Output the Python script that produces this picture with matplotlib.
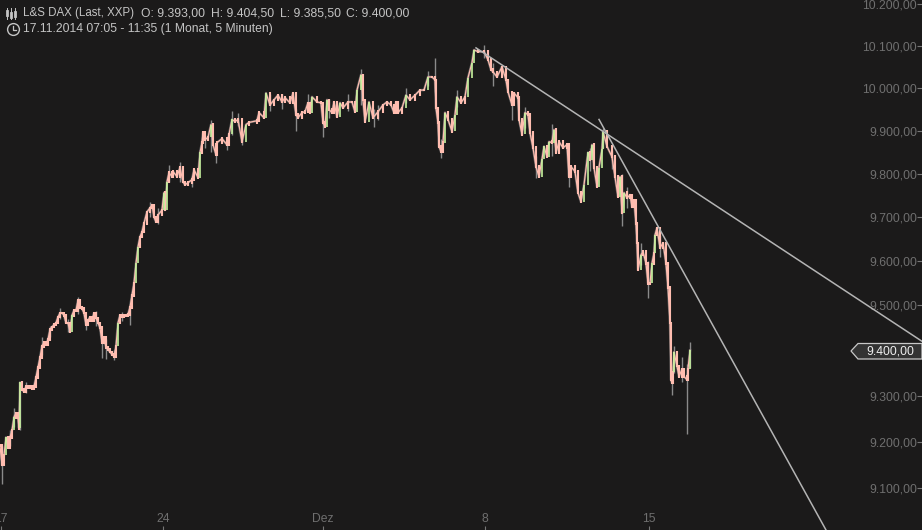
import matplotlib
matplotlib.use("Agg")
import matplotlib.pyplot as plt
from matplotlib.patches import Polygon
from matplotlib.lines import Line2D
import numpy as np

plt.rcParams['font.family'] = ['Liberation Sans', 'DejaVu Sans']

BG = '#1b1a1a'
title_line1 = ['L&S DAX (Last, XXP)', 'O: 9.393,00', 'H: 9.404,50', 'L: 9.385,50', 'C: 9.400,00']
title_line2 = '17.11.2014 07:05 - 11:35 (1 Monat, 5 Minuten)'

slots = [0,2,4,6,8,10,12,14,16,18,19,20,22,24,26,28,30,32,34,36,38,40,42,44,46,48,50,52,54,56,58,60,62,64,66,68,70,72,74,76,78,80,82,84,86,88,90,92,94,96,98,100,102,104,106,108,110,112,114,116,118,120,122,124,126,128,130,132,
134,136,138,140,142,144,147,150,152,154,156,158,162,164,165,167,169,172,173,177,180,183,185,188,192,194,198,200,202,203,205,208,211,213,216,217,222,227,229,232,235,238,242,246,249,257,259,
264,266,270,274,278,282,285,290,293,296,298,302,305,308,310,312,317,321,323,325,327,329,332,334,337,340,343,348,352,355,357,361,363,365,369,373,378,
383,387,391,394,396,398,402,406,410,415,420,424,428,432,435,436,438,439,441,443,445,448,452,455,457,461,465,468,472,474,478,484,488,491,493,497,502,506,508,512,514,518,519,522,525,528,530,533,536,539,542,544,547,549,552,554,556,559,563,567,569,571,575,578,581,584,588,590,592,594,597,599,602,603,607,612,615,618,620,622,624,627,630,632,634,636,637,638,641,643,646,648,650,652,654,655,657,660,663,666,668,670,671,672,673,674,677,679,682,684,687,688,690]

close = [9191,9149,9170,9209,9187,9209,9224,9253,9262,9251,9229,9329,9313,9309,9320,9318,9320,9316,9320,9340,9362,9384,9409,9418,9413,9424,9446,9452,9457,9461,9474,9483,9483,9478,9461,9461,9441,9478,9489,9489,9511,9496,9493,9483,9457,9467,9474,9467,9483,9472,9461,9450,9418,9428,9407,9402,9396,9391,9387,9409,9461,9478,9476,9478,9478,9480,9496,9523,
9550,9595,9632,9655,9666,9686,9712,9721,9728,9700,9689,9705,9716,9756,9716,9781,9802,9793,9805,9793,9814,9781,9774,9779,9786,9809,9791,9849,9872,9895,9879,9884,9914,9867,9844,9872,9881,9867,9891,9926,9921,9926,9874,9914,9919,9923,9942,
9930,9988,9960,9972,9983,9967,9977,9965,9988,9937,9930,9942,9944,9965,9942,9979,9967,9965,9919,9909,9972,9949,9942,9967,9932,9965,9953,9967,9967,9944,9995,10031,9972,9921,9967,9930,9944,
9960,9967,9960,9942,9967,9942,9953,9983,9972,9983,9995,9995,10026,10026,10019,9953,9919,9863,9851,9872,9942,9926,9898,9937,9979,9965,9979,10024,10060,10090,10086,10086,10067,10043,10038,10026,10050,10019,9991,9960,9988,9977,9926,9891,9942,9937,9895,9860,9816,9793,9833,9863,9839,9874,9872,9902,9849,9874,9860,9867,9793,9816,9805,9756,9735,9774,9849,9832,9867,9814,9770,9814,9856,9898,9863,9839,9793,9747,9793,9709,9756,9744,9751,9723,9739,9686,9641,9580,9614,9621,9595,9550,9550,9595,9618,9659,9675,9630,9641,9595,9541,9461,9335,9329,9351,9396,9365,9342,9358,9342,9335,9358,9400]

wick_slots = [2,14,20,42,68,78,102,106,114,130,180,211,232,242,323,361,374,435,441,484,552,603,622,648,672,674,687,690,
              10,26,50,60,86,96,122,150,158,169,192,205,216,227,238,270,282,296,308,329,348,378,406,428,457,493,512,525,536,569,590,612,627,641,660,682]
wick_high = [9191,9273,9330,9430,9470,9518,9430,9425,9400,9500,9828,9925,9945,9890,9925,10045,9950,10071,9880,10102,9915,9905,9800,9600,9340,9410,9370,9418,
             9225,9330,9455,9495,9470,9488,9485,9735,9720,9820,9795,9890,9865,9880,9940,9985,9985,9950,9985,9975,9985,9960,10000,10040,9995,10060,9980,9955,9840,9820,9860,9855,9770,9640,9660,9385]
wick_low = [9108,9232,9225,9390,9440,9480,9384,9380,9378,9457,9780,9850,9890,9867,9884,9960,9909,9990,9837,10070,9840,9860,9680,9516,9302,9350,9217,9360,
            9190,9305,9430,9470,9445,9455,9465,9700,9685,9780,9770,9860,9825,9855,9910,9945,9950,9900,9945,9930,9945,9925,9965,10005,9955,10005,9925,9905,9790,9770,9805,9810,9720,9590,9610,9330]

y_ticks = [9100,9200,9300,9500,9600,9700,9800,9900,10000,10100,10200]
y_tick_labels = ['9.100,00','9.200,00','9.300,00','9.500,00','9.600,00','9.700,00','9.800,00','9.900,00','10.000,00','10.100,00','10.200,00']
x_ticks = [1,163,323,485,649]
x_tick_labels = ['17','24','Dez','8','15']

trend_a_slots = [476,922]
trend_a_price = [10095,9420]
trend_b_slots = [599,826]
trend_b_price = [9926,9010]

last_price_label = '9.400,00'

fig = plt.figure(figsize=(9.22,5.30), dpi=100, facecolor=BG)
ax = fig.add_axes([0,0,1,1], facecolor=BG)
ax.set_yscale('log')
ax.set_xlim(0,922)
ax.set_ylim(9010,10209.6)
for s in ax.spines.values():
    s.set_visible(False)

ax.yaxis.tick_right()
ax.set_yticks(y_ticks)
ax.set_yticklabels(y_tick_labels, ha='right')
ax.minorticks_off()
ax.tick_params(axis='y', direction='in', length=3.6, width=0.8, color='#777777',
               labelcolor='#6f6f6f', labelsize=8.7, pad=-3.6)
ax.set_xticks(x_ticks)
ax.set_xticklabels(x_tick_labels)
ax.tick_params(axis='x', direction='in', length=3, width=0.8, color='#777777',
               labelcolor='#6f6f6f', labelsize=8.7, pad=-12.0)

x = np.array(slots, float)
c = np.array(close, float)
ax.plot(x, c, color='#6e6e6e', lw=1.8, alpha=0.8, solid_joinstyle='round', zorder=2)
ax.vlines(wick_slots, wick_low, wick_high, color='#8a8a8a', lw=1.0, zorder=2)

# candle bodies: open is the previous close
opens = np.r_[c[0], c[:-1]]
steep = (c - opens) > 28
down_col, up_col = '#ffbdb0', '#c6f29e'
ax.plot(x, c, color=down_col, lw=0.9, zorder=3)
ax.vlines(x[~steep], np.minimum(opens, c)[~steep]-3, np.maximum(opens, c)[~steep]+3,
          color=down_col, lw=1.5, zorder=3)
ax.vlines(x[steep], opens[steep], c[steep], color=up_col, lw=1.2, zorder=4)

ax.plot(trend_a_slots, trend_a_price, color='#b4b4b4', lw=1.1, zorder=5)
ax.plot(trend_b_slots, trend_b_price, color='#b4b4b4', lw=1.1, zorder=5)

# last-price tag
W,H = 922.,530.
tag = [(851/W,1-351/H),(858/W,1-343.5/H),(922/W,1-343.5/H),(922/W,1-359/H),(858/W,1-359/H)]
fig.add_artist(Polygon(tag, closed=True, transform=fig.transFigure, facecolor='#333333',
                       edgecolor='#c8c8c8', lw=0.9, zorder=6))
fig.text(890/W, 1-351.5/H, last_price_label, color='#eeeeee', fontsize=8.7, ha='center', va='center', zorder=7)

# header
hc = '#c4c4c4'
xs = [23,141,211,280,346]
sizes = [8.3,8.7,8.7,8.7,8.7]
for xp,t,fs in zip(xs,title_line1,sizes):
    fig.text(xp/W, 1-13/H, t, color=hc, fontsize=fs, ha='left', va='center')
fig.text(23/W, 1-29/H, title_line2, color=hc, fontsize=8.7, ha='left', va='center')

# icons
for xp,y0,y1,b0,b1 in [(7,8,19,11,15),(11,8,19,13,17),(15,8,19,12,16)]:
    fig.add_artist(Line2D([xp/W,xp/W],[1-y0/H,1-y1/H],color=hc,lw=0.7,transform=fig.transFigure))
    fig.add_artist(Line2D([xp/W,xp/W],[1-b0/H,1-b1/H],color=hc,lw=2.0,transform=fig.transFigure))
fig.add_artist(Line2D([12.5/W],[1-29/H],marker='o',ms=8.5,mfc='none',mec=hc,mew=1.0,transform=fig.transFigure))
fig.add_artist(Line2D([12.5/W,12.5/W,16/W],[1-25.5/H,1-29.5/H,1-29.5/H],color=hc,lw=0.9,transform=fig.transFigure))

fig.savefig('out.png', dpi=100, facecolor=BG)
